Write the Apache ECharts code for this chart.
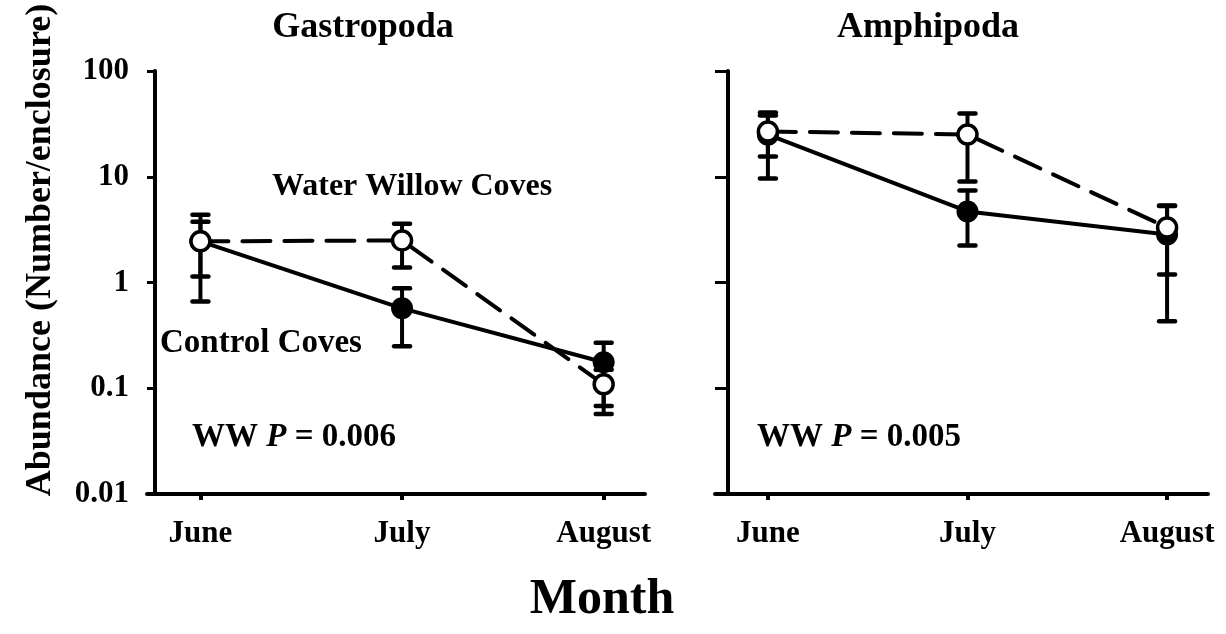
<!DOCTYPE html>
<html>
<head>
<meta charset="utf-8">
<script src="https://cdn.jsdelivr.net/npm/echarts@6/dist/echarts.min.js"></script>
<style>
    html, body { margin: 0; padding: 0; background: #fff; }
    #myChart { width: 1226px; height: 634px; }
</style>
</head>
<body>
<div id="myChart"></div>
<script>
    // months on the x axis (positions 1, 2, 3)
    var months = ['June', 'July', 'August'];
    var yTicks = [0.01, 0.1, 1, 10, 100];

    // Gastropoda
    var gastroControl = [2.45, 0.57, 0.176];
    var gastroControlLo = [0.66, 0.25, 0.057];
    var gastroControlHi = [4.38, 0.88, 0.27];
    var gastroWW = [2.45, 2.5, 0.109];
    var gastroWWLo = [1.14, 1.39, 0.068];
    var gastroWWHi = [3.76, 3.6, 0.15];

    // Amphipoda
    var amphiControl = [25, 4.7, 2.84];
    var amphiControlLo = [9.6, 2.24, 0.43];
    var amphiControlHi = [40.5, 7.4, 5.3];
    var amphiWW = [26.8, 25.1, 3.31];
    var amphiWWLo = [15.5, 9.0, 1.19];
    var amphiWWHi = [37.9, 39.6, 5.35];

    var font = "'Liberation Serif', 'Times New Roman', serif";

    function points (vals) {
        var out = [];
        for (var i = 0; i < vals.length; i++) {
            out.push([i + 1, vals[i]]);
        }
        return out;
    }
    function bars (lo, hi) {
        var out = [];
        for (var i = 0; i < lo.length; i++) {
            out.push([i + 1, lo[i], hi[i]]);
        }
        return out;
    }

    function errRender (params, api) {
        var x = api.value(0);
        var pLo = api.coord([x, api.value(1)]);
        var pHi = api.coord([x, api.value(2)]);
        var w = 8;
        var st = { stroke: '#000', lineWidth: 4.5, lineCap: 'round' };
        return {
            type: 'group',
            children: [
                { type: 'line', shape: { x1: pLo[0], y1: pLo[1], x2: pHi[0], y2: pHi[1] }, style: { stroke: '#000', lineWidth: 4 } },
                { type: 'line', shape: { x1: pHi[0] - w, y1: pHi[1], x2: pHi[0] + w, y2: pHi[1] }, style: st },
                { type: 'line', shape: { x1: pLo[0] - w, y1: pLo[1], x2: pLo[0] + w, y2: pLo[1] }, style: st }
            ]
        };
    }

    function xAxis (idx) {
        return {
            type: 'value',
            gridIndex: idx,
            min: 0.735,
            max: 3.205,
            splitLine: { show: false },
            axisLine: { lineStyle: { color: '#000', width: 4 } },
            axisTick: { show: true, length: 6, lineStyle: { color: '#000', width: 4 }, customValues: [1, 2, 3] },
            axisLabel: {
                customValues: [1, 2, 3],
                margin: 24,
                color: '#000',
                fontFamily: font,
                fontWeight: 'bold',
                fontSize: 31,
                formatter: function (v) { return months[Math.round(v) - 1]; }
            }
        };
    }

    function yAxis (idx, offset, labels) {
        return {
            type: 'log',
            logBase: 10,
            gridIndex: idx,
            min: 0.01,
            max: 100,
            offset: offset,
            splitLine: { show: false },
            minorTick: { show: false },
            axisLine: { show: true, lineStyle: { color: '#000', width: 4 } },
            axisTick: { show: true, length: -offset, lineStyle: { color: '#000', width: 3 } },
            axisLabel: {
                show: labels,
                margin: 26,
                color: '#000',
                fontFamily: font,
                fontWeight: 'bold',
                fontSize: 31,
                formatter: function (v) {
                    for (var i = 0; i < yTicks.length; i++) {
                        if (Math.abs(Math.log10(v) - Math.log10(yTicks[i])) < 0.01) return String(yTicks[i]);
                    }
                    return '';
                }
            }
        };
    }

    function lineSeries (idx, vals, open) {
        return {
            type: 'line',
            xAxisIndex: idx,
            yAxisIndex: idx,
            data: points(vals),
            symbol: 'circle',
            symbolSize: open ? 19 : 22,
            z: open ? 4 : 3,
            lineStyle: open
                ? { color: '#000', width: 4, type: [28, 14], cap: 'round' }
                : { color: '#000', width: 4 },
            itemStyle: open
                ? { color: '#fff', borderColor: '#000', borderWidth: 3.5 }
                : { color: '#000', borderColor: '#000', borderWidth: 0 },
            animation: false
        };
    }

    function errSeries (idx, lo, hi) {
        return {
            type: 'custom',
            xAxisIndex: idx,
            yAxisIndex: idx,
            data: bars(lo, hi),
            encode: { x: 0, y: [1, 2] },
            renderItem: errRender,
            z: 2,
            animation: false
        };
    }

    function label (text, x, y, size, align, rotation) {
        return {
            type: 'text',
            x: x,
            y: y,
            rotation: rotation || 0,
            style: {
                text: text,
                fontFamily: font,
                fontWeight: 'bold',
                fontSize: size,
                fill: '#000',
                align: align || 'center',
                verticalAlign: 'middle',
                rich: {
                    i: { fontFamily: font, fontWeight: 'bold', fontStyle: 'italic', fontSize: size, fill: '#000' }
                }
            }
        };
    }

    var c = document.getElementById('myChart');
    var myChart = echarts.init(c);
    myChart.setOption({
        backgroundColor: '#fff',
        animation: false,
        grid: [
            { left: 147, top: 71, width: 498, height: 423 },
            { left: 715, top: 71, width: 493, height: 423 }
        ],
        xAxis: [xAxis(0), xAxis(1)],
        yAxis: [yAxis(0, -8, true), yAxis(1, -13, false)],
        series: [
            errSeries(0, gastroControlLo, gastroControlHi),
            errSeries(0, gastroWWLo, gastroWWHi),
            lineSeries(0, gastroControl, false),
            lineSeries(0, gastroWW, true),
            errSeries(1, amphiControlLo, amphiControlHi),
            errSeries(1, amphiWWLo, amphiWWHi),
            lineSeries(1, amphiControl, false),
            lineSeries(1, amphiWW, true)
        ],
        graphic: [
            label('Gastropoda', 363, 28, 36),
            label('Amphipoda', 928, 28, 36),
            label('Abundance (Number/enclosure)', 41, 250, 36, 'center', Math.PI / 2),
            label('Month', 602, 600, 50),
            label('Water Willow Coves', 272, 187, 32, 'left'),
            label('Control Coves', 160, 343, 33, 'left'),
            label('WW {i|P} = 0.006', 192, 437, 33, 'left'),
            label('WW {i|P} = 0.005', 757, 437, 33, 'left')
        ]
    });
</script>
</body>
</html>
